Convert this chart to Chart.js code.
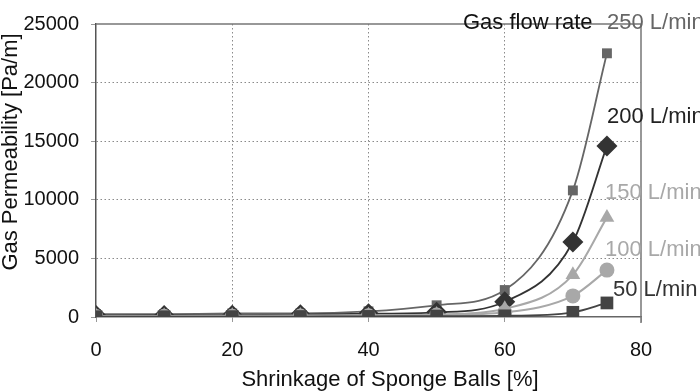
<!DOCTYPE html>
<html>
<head>
<meta charset="utf-8">
<script src="https://cdn.jsdelivr.net/npm/chart.js@4/dist/chart.umd.min.js"></script>
<style>
	html, body { margin: 0; padding: 0; background: #fff; }
	#wrap { width: 700px; height: 392px; }
</style>
</head>
<body>
<div id="wrap"><canvas id="chart" width="700" height="392"></canvas></div>
<script>
// shrinkage [%]
const shrinkage = [0, 10, 20, 30, 40, 50, 60, 70, 75]
// gas permeability [Pa/m] per gas flow rate
const flow250 = [250, 250, 300, 300, 480, 1000, 2300, 10800, 22500]
const flow200 = [120, 130, 150, 200, 280, 400, 1300, 6400, 14600]
const flow150 = [80, 90, 100, 120, 150, 220, 700, 3600, 8500]
const flow100 = [50, 60, 70, 80, 100, 170, 400, 1800, 4000]
const flow50 = [20, 20, 30, 40, 50, 80, 100, 400, 1200]
const seriesNames = ['250 L/min', '200 L/min', '150 L/min', '100 L/min', '50 L/min']
const yTicks = [0, 5000, 10000, 15000, 20000, 25000]
const xTicks = [0, 20, 40, 60, 80]

const FAMILY = '"Liberation Sans", Arial, sans-serif'
const TICK_FONT = { family: FAMILY, size: 20 }
const BIG = 22

const toPoints = (vals) => vals.map((v, i) => ({ x: shrinkage[i], y: v }))

const makeSet = (label, vals, color, style, radius, width) => ({
	label,
	data: toPoints(vals),
	borderColor: color,
	backgroundColor: color,
	borderWidth: width,
	pointStyle: style,
	pointRadius: radius,
	pointBorderWidth: 0,
	pointBackgroundColor: color,
	cubicInterpolationMode: 'monotone',
	fill: false,
})

const datasets = [
	makeSet(seriesNames[4], flow50, '#444444', 'rect', 9, 1.8),
	makeSet(seriesNames[3], flow100, '#a8a8a8', 'circle', 7.5, 2),
	makeSet(seriesNames[2], flow150, '#a8a8a8', 'triangle', 8.5, 2),
	makeSet(seriesNames[1], flow200, '#333333', 'rectRot', 10.5, 1.8),
	makeSet(seriesNames[0], flow250, '#666666', 'rect', 7, 1.8),
]

// frame on top/right, axis titles, and the labels next to the curves
const annotate = {
	id: 'annotate',
	afterDraw(chart) {
		const { ctx, chartArea: a } = chart
		ctx.save()
		ctx.strokeStyle = '#777'
		ctx.lineWidth = 1.5
		ctx.beginPath()
		ctx.moveTo(a.left, a.top)
		ctx.lineTo(a.right, a.top)
		ctx.lineTo(a.right, a.bottom + 6)
		ctx.stroke()

		ctx.font = `${BIG}px ${FAMILY}`
		ctx.textBaseline = 'middle'
		ctx.fillStyle = '#111'
		ctx.textAlign = 'center'
		ctx.fillText('Shrinkage of Sponge Balls [%]', 390, 380)
		ctx.save()
		ctx.translate(11, 152)
		ctx.rotate(-Math.PI / 2)
		ctx.fillText('Gas Permeability [Pa/m]', 0, 0)
		ctx.restore()

		ctx.textAlign = 'left'
		const labels = [
			['Gas flow rate', '#111', 463, 23],
			[seriesNames[0], '#666', 607, 23],
			[seriesNames[1], '#222', 607, 117],
			[seriesNames[2], '#a8a8a8', 605, 193],
			[seriesNames[3], '#a8a8a8', 605, 250],
			[seriesNames[4], '#333', 613, 290],
		]
		labels.forEach(([t, c, x, y]) => {
			ctx.fillStyle = c
			ctx.fillText(t, x, y)
		})
		ctx.restore()
	},
}

new Chart(document.getElementById('chart'), {
	type: 'line',
	data: { datasets },
	options: {
		responsive: false,
		animation: false,
		layout: { padding: { top: 7, right: 59, left: 0, bottom: 0 } },
		plugins: { legend: { display: false }, tooltip: { enabled: false } },
		scales: {
			x: {
				type: 'linear',
				min: 0,
				max: 80,
				afterBuildTicks: (s) => { s.ticks = xTicks.map((v) => ({ value: v })) },
				afterFit: (s) => { s.height = 75 },
				ticks: { font: TICK_FONT, color: '#111', padding: 16, callback: (v) => String(v) },
				grid: {
					color: (c) => (c.tick && (c.tick.value === 0 || c.tick.value === 80) ? 'rgba(0,0,0,0)' : '#8a8a8a'),
					lineWidth: 1,
					tickLength: 5,
					tickColor: '#999',
				},
				border: { display: true, color: '#666', width: 1.5, dash: [1.5, 2.5] },
			},
			y: {
				min: 0,
				max: 25000,
				afterBuildTicks: (s) => { s.ticks = yTicks.map((v) => ({ value: v })) },
				afterFit: (s) => { s.width = 96 },
				ticks: { font: TICK_FONT, color: '#111', padding: 12, callback: (v) => String(v) },
				grid: {
					color: (c) => (c.tick && (c.tick.value === 0 || c.tick.value === 25000) ? 'rgba(0,0,0,0)' : '#8a8a8a'),
					lineWidth: 1,
					tickLength: 5,
					tickColor: '#999',
				},
				border: { display: true, color: '#555', width: 1.5, dash: [1.5, 2.5] },
			},
		},
	},
	plugins: [annotate],
})
</script>
</body>
</html>
